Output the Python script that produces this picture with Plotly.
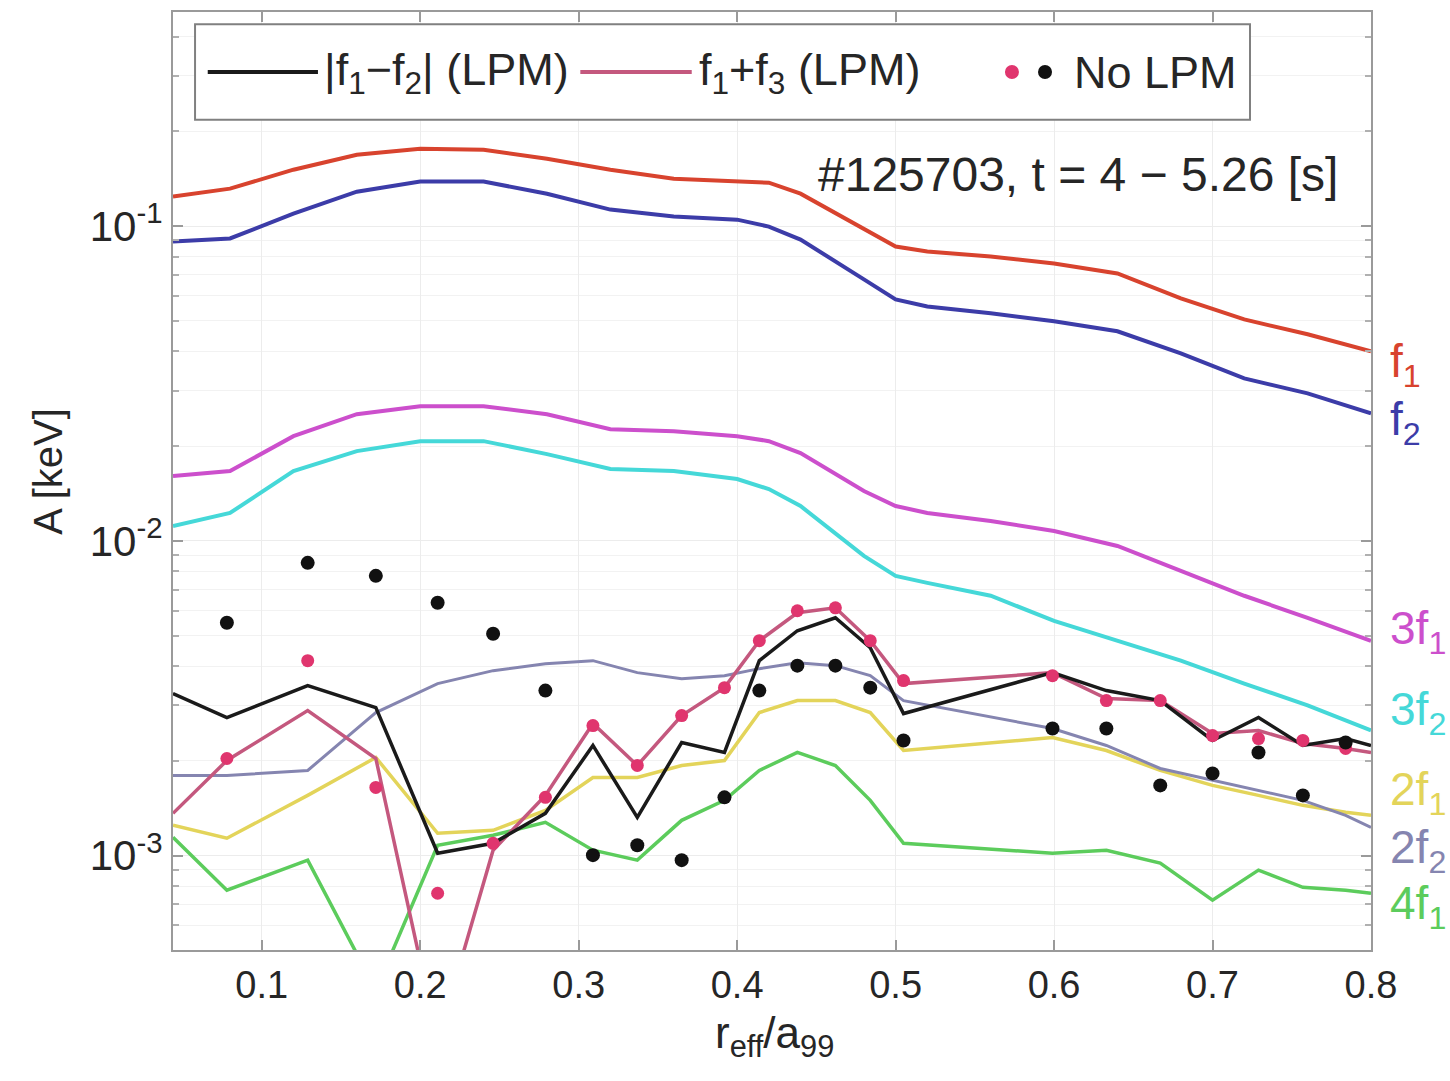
import plotly.graph_objects as go

# ---- smooth harmonic amplitude profiles (fine radial grid) ----
r_profile = [0.044, 0.08, 0.12, 0.16, 0.20, 0.24, 0.28, 0.32, 0.36, 0.40, 0.42,
             0.44, 0.48, 0.50, 0.52, 0.56, 0.60, 0.64, 0.68, 0.72, 0.76, 0.80]
amp_f1 = [0.1240, 0.1315, 0.1510, 0.1685, 0.1761, 0.1748, 0.1637, 0.1510, 0.1414, 0.1384, 0.1373,
          0.1267, 0.0975, 0.0861, 0.0830, 0.0800, 0.0760, 0.0707, 0.0589, 0.0505, 0.0453, 0.0400]
amp_f2 = [0.0893, 0.0913, 0.1095, 0.1286, 0.1384, 0.1384, 0.1267, 0.1128, 0.1072, 0.1048, 0.0996,
          0.0906, 0.0677, 0.0585, 0.0555, 0.0528, 0.0498, 0.0463, 0.0394, 0.0328, 0.0294, 0.0254]
amp_3f1 = [0.01606, 0.01666, 0.02150, 0.02525, 0.02677, 0.02677, 0.02525, 0.02263, 0.02230, 0.02150, 0.02073,
           0.01899, 0.01439, 0.01290, 0.01226, 0.01156, 0.01074, 0.00963, 0.00803, 0.00669, 0.00569, 0.00481]
amp_3f2 = [0.01114, 0.01226, 0.01666, 0.01927, 0.02073, 0.02073, 0.01885, 0.01690, 0.01666, 0.01571, 0.01460,
           0.01290, 0.00896, 0.00774, 0.00735, 0.00669, 0.00557, 0.00481, 0.00416, 0.00352, 0.00300, 0.00250]

# ---- channel radii for the weaker harmonics and the coupling terms ----
r_ch = [0.044, 0.078, 0.129, 0.172, 0.211, 0.246, 0.279, 0.309, 0.337, 0.365, 0.392, 0.414,
        0.438, 0.462, 0.484, 0.505, 0.599, 0.633, 0.667, 0.700, 0.729, 0.757, 0.784, 0.800]
amp_2f1 = [0.001248, 0.001135, 0.001553, 0.002049, 0.001177, 0.001203, 0.001392, 0.001771, 0.001771,
           0.001933, 0.002005, 0.002847, 0.003107, 0.003107, 0.002847, 0.002157, 0.002371, 0.002157,
           0.001864, 0.001671, 0.001553, 0.001444, 0.001372, 0.001342]
amp_2f2 = [0.001797, 0.001797, 0.001864, 0.002847, 0.003518, 0.003868, 0.004071, 0.004161, 0.003812,
           0.003648, 0.003729, 0.003925, 0.004101, 0.004012, 0.003729, 0.003107, 0.002533, 0.002238,
           0.001891, 0.001733, 0.001611, 0.001498, 0.001342, 0.001229]
amp_4f1 = [0.001143, 0.000776, 0.000967, 0.000374, 0.001078, 0.001160, 0.001275, 0.001040, 0.000967,
           0.001294, 0.001498, 0.001864, 0.002126, 0.001933, 0.001498, 0.001094, 0.001017, 0.001040,
           0.000946, 0.000722, 0.000899, 0.000793, 0.000776, 0.000759]
lpm_diff = [0.003271, 0.002745, 0.003467, 0.002952, 0.001017, 0.001094, 0.001362, 0.002238, 0.001322,
            0.002287, 0.002126, 0.004161, 0.005180, 0.005695, 0.004574, 0.002826, 0.003812, 0.003343,
            0.003107, 0.002321, 0.002745, 0.002238, 0.002354, 0.002238]
lpm_sum = [0.001362, 0.002005, 0.002889, 0.002034, 0.000258, 0.001040, 0.001553, 0.002627, 0.001933,
           0.002785, 0.003416, 0.004815, 0.005907, 0.006126, 0.004815, 0.003518, 0.003812, 0.003153,
           0.003107, 0.002442, 0.002496, 0.002271, 0.002189, 0.002126]

# ---- estimates without the LPM correction ----
r_nolpm = [0.078, 0.129, 0.172, 0.211, 0.246, 0.279, 0.309, 0.337, 0.365, 0.392, 0.414,
           0.438, 0.462, 0.484, 0.505, 0.599, 0.633, 0.667, 0.700, 0.729, 0.757, 0.784]
nolpm_sum = [0.002034, 0.004161, 0.001646, 0.000759, 0.001094, 0.001531, 0.002589, 0.001933, 0.002785,
             0.003416, 0.004815, 0.005994, 0.006126, 0.004815, 0.003596, 0.003729, 0.003107, 0.003107,
             0.002406, 0.002354, 0.002321, 0.002189]
nolpm_diff = [0.005491, 0.008510, 0.007739, 0.006354, 0.005068, 0.003343, 0.001003, 0.001078, 0.000967,
              0.001531, 0.003343, 0.004012, 0.004012, 0.003416, 0.002321, 0.002532, 0.002533, 0.001671,
              0.001824, 0.002126, 0.001553, 0.002287]

x_ticks = [0.1, 0.2, 0.3, 0.4, 0.5, 0.6, 0.7, 0.8]
y_ticks = [1e-3, 1e-2, 1e-1]
y_ticktext = ["10<sup>-3</sup>", "10<sup>-2</sup>", "10<sup>-1</sup>"]

FONT = "Liberation Sans, Arial, sans-serif"
TXT = "#262626"

C_F1 = "#d8432e"
C_F2 = "#3c3ca8"
C_3F1 = "#cc4fcc"
C_3F2 = "#45d8d8"
C_2F1 = "#e3d45a"
C_2F2 = "#8585b0"
C_4F1 = "#5ccc5c"
C_DIFF = "#1a1a1a"
C_SUM = "#c4587e"
C_DOT_SUM = "#e0356e"
C_DOT_DIFF = "#111111"

fig = go.Figure()


def profile(x, y, color, width):
    fig.add_trace(go.Scatter(x=x, y=y, mode="lines", showlegend=False,
                             line=dict(color=color, width=width), hoverinfo="skip"))


profile(r_profile, amp_f1, C_F1, 4)
profile(r_profile, amp_f2, C_F2, 4)
profile(r_profile, amp_3f1, C_3F1, 4)
profile(r_profile, amp_3f2, C_3F2, 4)
profile(r_ch, amp_4f1, C_4F1, 3.5)
profile(r_ch, amp_2f1, C_2F1, 3.5)
profile(r_ch, amp_2f2, C_2F2, 3)
profile(r_ch, lpm_sum, C_SUM, 3.5)
profile(r_ch, lpm_diff, C_DIFF, 3.5)

fig.add_trace(go.Scatter(x=r_nolpm, y=nolpm_sum, mode="markers", showlegend=False,
                         marker=dict(color=C_DOT_SUM, size=13, line=dict(width=0))))
fig.add_trace(go.Scatter(x=r_nolpm, y=nolpm_diff, mode="markers", showlegend=False,
                         marker=dict(color=C_DOT_DIFF, size=14, line=dict(width=0))))

minor_y = [k * 10.0 ** e for e in (-4, -3, -2, -1) for k in range(2, 10)]

fig.update_xaxes(range=[0.044, 0.8], tickvals=x_ticks, ticktext=[f"{v:.1f}" for v in x_ticks],
                 showline=True, linecolor="#9a9a9a", linewidth=2, mirror="ticks",
                 ticks="inside", ticklen=10, tickcolor="#9a9a9a", tickwidth=2,
                 showgrid=True, gridcolor="#ececec", gridwidth=1, zeroline=False,
                 tickfont=dict(family=FONT, size=38, color=TXT))
fig.update_yaxes(type="log", range=[-3.30, -0.32], tickvals=y_ticks, ticktext=y_ticktext,
                 showline=True, linecolor="#9a9a9a", linewidth=2, mirror="ticks",
                 ticks="inside", ticklen=10, tickcolor="#9a9a9a", tickwidth=2,
                 showgrid=True, gridcolor="#ececec", gridwidth=1, zeroline=False,
                 minor=dict(tickvals=minor_y, ticks="inside", ticklen=6, tickcolor="#b0b0b0",
                            showgrid=True, gridcolor="#f2f2f2"),
                 tickfont=dict(family=FONT, size=42, color=TXT))

# ---- legend panel drawn in paper coordinates ----
shapes = [
    dict(type="rect", xref="paper", yref="paper", x0=0.0184, x1=0.899, y0=0.885, y1=0.987,
         line=dict(color="#808080", width=2), fillcolor="white", layer="above"),
    dict(type="line", xref="paper", yref="paper", x0=0.029, x1=0.121, y0=0.936, y1=0.936,
         line=dict(color=C_DIFF, width=4)),
    dict(type="line", xref="paper", yref="paper", x0=0.340, x1=0.433, y0=0.936, y1=0.936,
         line=dict(color=C_SUM, width=4)),
    dict(type="circle", xref="paper", yref="paper", xsizemode="pixel", ysizemode="pixel",
         xanchor=0.7003, yanchor=0.936, x0=-7, x1=7, y0=-7, y1=7,
         fillcolor=C_DOT_SUM, line=dict(width=0)),
    dict(type="circle", xref="paper", yref="paper", xsizemode="pixel", ysizemode="pixel",
         xanchor=0.7279, yanchor=0.936, x0=-7, x1=7, y0=-7, y1=7,
         fillcolor=C_DOT_DIFF, line=dict(width=0)),
]

LEG = dict(family=FONT, size=45, color=TXT)
annotations = [
    dict(text="|f<sub>1</sub>\u2212f<sub>2</sub>| (LPM)", x=0.1244, y=0.936, xref="paper", yref="paper",
         xanchor="left", yanchor="middle", showarrow=False, font=LEG),
    dict(text="f<sub>1</sub>+f<sub>3</sub> (LPM)", x=0.4374, y=0.936, xref="paper", yref="paper",
         xanchor="left", yanchor="middle", showarrow=False, font=LEG),
    dict(text="No LPM", x=0.7504, y=0.936, xref="paper", yref="paper",
         xanchor="left", yanchor="middle", showarrow=False, font=LEG),
    dict(text="#125703, t = 4 \u2212 5.26 [s]", x=0.974, y=0.8266, xref="paper", yref="paper",
         xanchor="right", yanchor="middle", showarrow=False, font=dict(family=FONT, size=48, color=TXT)),
    dict(text="A [keV]", x=-0.105, y=0.51, xref="paper", yref="paper", textangle=-90,
         xanchor="center", yanchor="middle", showarrow=False, font=dict(family=FONT, size=40, color=TXT)),
    dict(text="r<sub>eff</sub>/a<sub>99</sub>", x=0.5025, y=-0.092, xref="paper", yref="paper",
         xanchor="center", yanchor="middle", showarrow=False, font=dict(family=FONT, size=44, color=TXT)),
]

# curve labels beyond the right axis
side_labels = [
    ("f<sub>1</sub>", 0.624, C_F1),
    ("f<sub>2</sub>", 0.562, C_F2),
    ("3f<sub>1</sub>", 0.340, C_3F1),
    ("3f<sub>2</sub>", 0.253, C_3F2),
    ("2f<sub>1</sub>", 0.168, C_2F1),
    ("2f<sub>2</sub>", 0.106, C_2F2),
    ("4f<sub>1</sub>", 0.046, C_4F1),
]
for text, yy, col in side_labels:
    annotations.append(dict(text=text, x=1.0142, y=yy, xref="paper", yref="paper",
                            xanchor="left", yanchor="middle", showarrow=False,
                            font=dict(family=FONT, size=46, color=col)))

fig.update_layout(
    width=1450, height=1081,
    margin=dict(l=173, r=79, t=10, b=131),
    paper_bgcolor="white", plot_bgcolor="white",
    showlegend=False,
    shapes=shapes,
    annotations=annotations,
    font=dict(family=FONT, color=TXT),
)

fig.write_html("out.html")
